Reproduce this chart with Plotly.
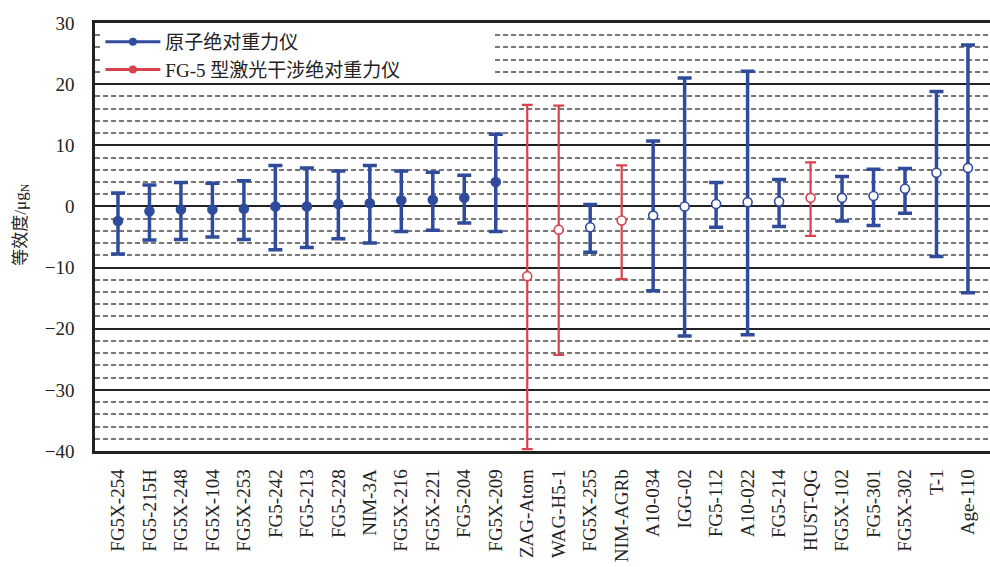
import plotly.graph_objects as go

# Instrument names along the x axis
labels = ["FG5X-254", "FG5-215H", "FG5X-248", "FG5X-104", "FG5X-253", "FG5-242",
          "FG5-213", "FG5-228", "NIM-3A", "FG5X-216", "FG5X-221", "FG5-204",
          "FG5X-209", "ZAG-Atom", "WAG-H5-1", "FG5X-255", "NIM-AGRb", "A10-034",
          "IGG-02", "FG5-112", "A10-022", "FG5-214", "HUST-QG", "FG5X-102",
          "FG5-301", "FG5X-302", "T-1", "Age-110"]

# Degree of equivalence (µGal) and the ends of its uncertainty bar
center = [-2.4, -0.8, -0.5, -0.5, -0.4, 0.0, 0.0, 0.4, 0.5, 1.0, 1.1, 1.4,
          4.0, -11.4, -3.8, -3.4, -2.3, -1.5, 0.0, 0.4, 0.7, 0.8, 1.4, 1.4,
          1.7, 2.9, 5.5, 6.3]
upper = [2.2, 3.5, 3.9, 3.8, 4.2, 6.7, 6.3, 5.8, 6.7, 5.8, 5.6, 5.1,
         11.8, 16.6, 16.5, 0.3, 6.7, 10.7, 21.0, 3.9, 22.1, 4.4, 7.2, 4.9,
         6.1, 6.2, 18.8, 26.4]
lower = [-7.8, -5.5, -5.4, -5.0, -5.4, -7.1, -6.7, -5.3, -6.0, -4.1, -3.9, -2.7,
         -4.1, -39.7, -24.3, -7.5, -11.9, -13.8, -21.2, -3.4, -21.0, -3.3, -4.8, -2.4,
         -3.1, -1.1, -8.2, -14.1]

# Marker style group: "bf" blue filled, "bo" blue open, "ro" red open
group = ["bf"] * 13 + ["ro", "ro", "bo", "ro", "bo", "bo", "bo", "bo", "bo",
                       "ro", "bo", "bo", "bo", "bo", "bo"]

legend_names = ["原子绝对重力仪", "FG-5 型激光干涉绝对重力仪"]

BLUE = "#2f4b9c"
RED = "#d9434d"
FONT = "Liberation Serif, Noto Sans CJK SC"

styles = {
    "bf": dict(color=BLUE, fill=BLUE, thick=3.5, cap=7),
    "bo": dict(color=BLUE, fill="white", thick=3.5, cap=7),
    "ro": dict(color=RED, fill="white", thick=2.2, cap=5.5),
}

fig = go.Figure()

for key, st in styles.items():
    idx = [i for i, g in enumerate(group) if g == key]
    fig.add_trace(go.Scatter(
        x=[labels[i] for i in idx],
        y=[center[i] for i in idx],
        mode="markers",
        showlegend=False,
        marker=dict(symbol="circle", size=9, color=st["fill"],
                    line=dict(color=st["color"], width=1.6)),
        error_y=dict(type="data", symmetric=False,
                     array=[upper[i] - center[i] for i in idx],
                     arrayminus=[center[i] - lower[i] for i in idx],
                     color=st["color"], thickness=st["thick"], width=st["cap"]),
    ))

# Legend entries (line + dot)
for name, col in zip(legend_names, [BLUE, RED]):
    fig.add_trace(go.Scatter(
        x=[labels[0]], y=[None], mode="lines+markers", name=name,
        line=dict(color=col, width=3), marker=dict(color=col, size=8),
    ))

# White panel behind the legend (legend layer sits above it)
fig.add_shape(type="rect", xref="paper", yref="y", layer="above",
              x0=0.006, x1=0.445, y0=20.3, y1=29.7,
              fillcolor="white", line=dict(width=0))

fig.add_annotation(text="等效度/μg<sub>N</sub>", xref="paper", yref="paper",
                   x=-0.082, y=0.528, textangle=-90, showarrow=False,
                   xanchor="center", yanchor="middle",
                   font=dict(family=FONT, size=17, color="#222"))

fig.update_layout(
    width=990, height=567,
    margin=dict(l=95, r=0, t=23, b=116),
    paper_bgcolor="white", plot_bgcolor="white",
    font=dict(family=FONT, size=19, color="#222"),
    legend=dict(x=0.006, y=1.0, xanchor="left", yanchor="top",
                bgcolor="rgba(0,0,0,0)", font=dict(family=FONT, size=19, color="#222"),
                tracegroupgap=0, itemwidth=55),
)

fig.update_xaxes(
    type="category", categoryorder="array", categoryarray=labels,
    range=[-0.73, 27.70], showgrid=False, zeroline=False,
    showline=True, mirror=True, linecolor="#222", linewidth=2.5,
    ticks="", tickangle=-90, ticklabelstandoff=8,
    tickfont=dict(family=FONT, size=19, color="#222"),
)

fig.update_yaxes(
    range=[-40, 30], dtick=10, tick0=0,
    showgrid=True, gridcolor="#222", gridwidth=2, zeroline=False,
    showline=True, linecolor="#222", linewidth=2.5,
    ticks="", ticklabelstandoff=14,
    tickfont=dict(family=FONT, size=19, color="#222"),
    minor=dict(dtick=2, tick0=0, showgrid=True, gridcolor="#777",
               gridwidth=1.5, griddash="5px,3px"),
)

fig.write_html("out.html")
